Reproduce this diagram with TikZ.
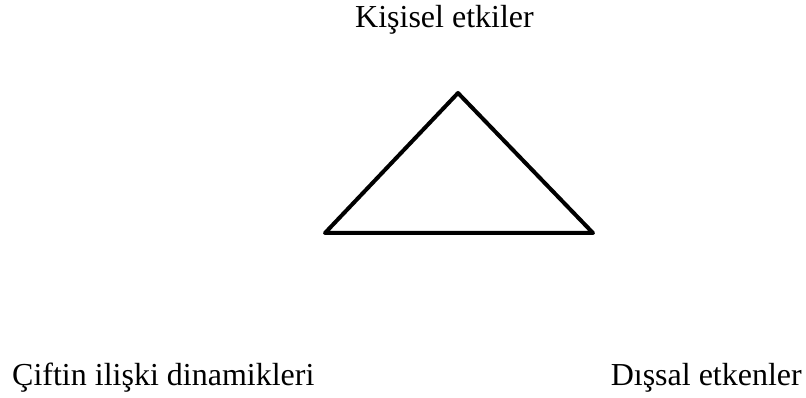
\documentclass[tikz,border=0pt]{standalone}
\usepackage{fontspec}
\setmainfont{Liberation Serif}
\begin{document}
\begin{tikzpicture}[x=1pt,y=1pt,
  lbl/.style={inner sep=0pt,font=\fontsize{32}{38}\selectfont}]
\useasboundingbox (0,0) rectangle (806,-398);
\coordinate (apex) at (458,-93);
\coordinate (bl) at (325,-233);
\coordinate (br) at (593,-233);
\draw[line width=4pt,line join=round] (apex) -- (br) -- (bl) -- cycle;
\node[lbl,anchor=base west] (kisisel) at (355,-28) {Kişisel etkiler};
\node[lbl,anchor=base west] (cift) at (12,-385) {Çiftin ilişki dinamikleri};
\node[lbl,anchor=base east] (dissal) at (802,-385) {Dışsal etkenler};
\end{tikzpicture}
\end{document}
